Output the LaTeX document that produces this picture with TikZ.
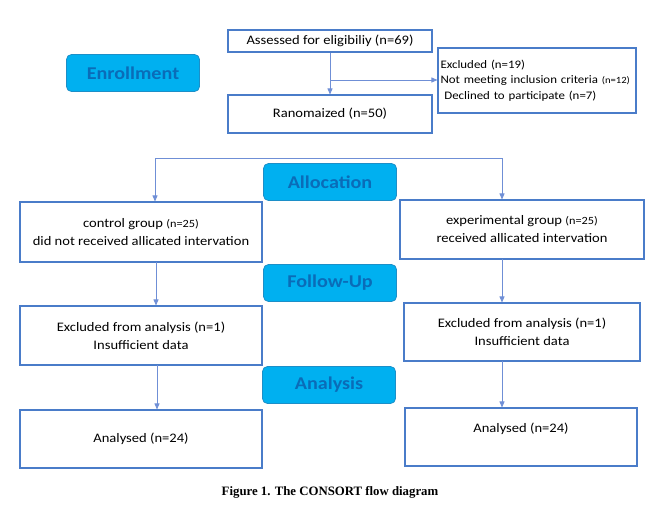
\documentclass[tikz,border=0pt]{standalone}
\usepackage{fontspec}
\setmainfont{Carlito}[FakeStretch=1.12]
\newfontfamily\capfont{Liberation Serif}
\usetikzlibrary{arrows.meta}
\definecolor{boxblue}{HTML}{4A7CC9}
\definecolor{arrblue}{HTML}{6F8FD6}
\definecolor{labfill}{HTML}{00B0F0}
\definecolor{labedge}{HTML}{1C8FC8}
\definecolor{labtext}{HTML}{0A6CB8}
\tikzset{
  box/.style={draw=boxblue, line width=1.1pt, fill=white, inner sep=0pt, align=center, font=\fontsize{13}{18}\selectfont},
  lab/.style={draw=labedge, line width=0.8pt, fill=labfill, rounded corners=5pt, inner sep=0pt, text=labtext, font=\bfseries\fontsize{18}{20}\selectfont, minimum width=133pt, minimum height=37pt},
  arr/.style={draw=arrblue, line width=0.8pt, -{Triangle[length=6pt,width=5pt]}},
  ln/.style={draw=arrblue, line width=0.8pt}
}
\begin{document}
\begin{tikzpicture}[x=1pt,y=-1pt]
\useasboundingbox (0,0) rectangle (669,514);
% enrollment
\node[lab] (enr) at (133,73) {Enrollment};
\node[box, minimum width=204pt, minimum height=22pt] (assess) at (330,41) {Assessed for eligibiliy (n=69)};
\node[box, minimum width=204pt, minimum height=38pt] (rand) at (330,114) {Ranomaized (n=50)};
\node[box, minimum width=198pt, minimum height=65pt, align=left, text width=193pt, font=\fontsize{11.5}{15.5}\selectfont] (excl) at (537,80.5)
  {Excluded (n=19)\\Not meeting inclusion criteria {\fontsize{9.5}{10}\selectfont(n=12)}\\\ Declined to participate (n=7)};
\draw[arr] (assess) -- (rand);
\coordinate (b1) at (330,80);
\draw[arr] (b1) -- (b1 -| excl.west);
% allocation
\node[lab] (alloc) at (330,182) {Allocation};
\node[box, minimum width=242pt, minimum height=60pt] (ctrl) at (141,232) {control group {\fontsize{11}{12}\selectfont(n=25)}\\did not received allicated intervation};
\node[box, minimum width=244pt, minimum height=59pt] (exp) at (522,229.5) {experimental group {\fontsize{11}{12}\selectfont(n=25)}\\received allicated intervation};
\coordinate (sL) at (155,158);
\coordinate (sR) at (502,158);
\draw[ln] (sL) -- (sR);
\draw[arr] (sL) -- (sL |- ctrl.north);
\draw[arr] (sR) -- (sR |- exp.north);
% follow-up
\node[lab] (fu) at (330,283) {Follow-Up};
\node[box, minimum width=242pt, minimum height=59pt] (ex1) at (141,335.5) {Excluded from analysis (n=1)\\Insufficient data};
\node[box, minimum width=236pt, minimum height=58pt] (ex2) at (522,332) {Excluded from analysis (n=1)\\Insufficient data};
\coordinate (f1) at (156,262);
\coordinate (f2) at (502,259);
\draw[arr] (f1) -- (f1 |- ex1.north);
\draw[arr] (f2) -- (f2 |- ex2.north);
% analysis
\node[lab] (an) at (329,385) {Analysis};
\node[box, minimum width=242pt, minimum height=58pt] (a1) at (141,439) {Analysed (n=24)};
\node[box, minimum width=232pt, minimum height=58pt, text depth=18pt] (a2) at (521,437) {Analysed (n=24)};
\coordinate (g1) at (157,365);
\coordinate (g2) at (502,361);
\draw[arr] (g1) -- (g1 |- a1.north);
\draw[arr] (g2) -- (g2 |- a2.north);
% caption
\node[font=\capfont\bfseries\fontsize{12.8}{14}\selectfont] (cap) at (330,492) {Figure 1. The CONSORT flow diagram};
\end{tikzpicture}
\end{document}
